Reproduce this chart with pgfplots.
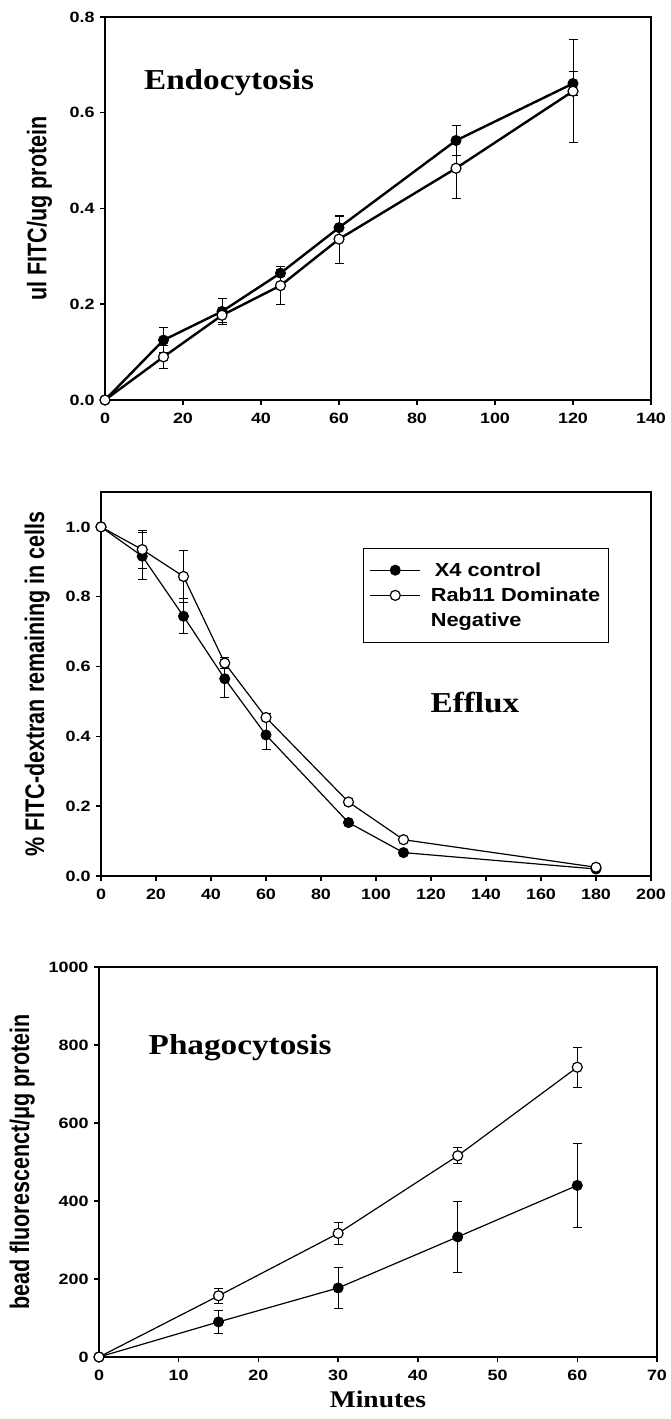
\documentclass[border=0pt]{standalone}
\usepackage{fontspec}
\setmainfont{Liberation Sans}
\newfontfamily\tickfont[FakeStretch=1.2]{Liberation Sans}
\newfontfamily\legfont[FakeStretch=1.15]{Liberation Sans}
\newfontfamily\ylabfont[FakeStretch=0.8]{Liberation Sans}
\newfontfamily\timesfont[FakeStretch=1.15]{Liberation Serif}
\usepackage{pgfplots}
\pgfplotsset{compat=1.18}
\pgfplotstableread{
x y e
0 0 0
15 0.125 0.026
30 0.185 0.027
45 0.265 0.008
60 0.360 0.023
90 0.542 0.032
120 0.661 0.026
}\endoA
\pgfplotstableread{
x y e
0 0 0
15 0.090 0.024
30 0.177 0.015
45 0.239 0.039
60 0.336 0.050
90 0.484 0.063
120 0.645 0.107
}\endoB
\pgfplotstableread{
x y e
0 1.0 0
15 0.916 0.067
30 0.744 0.050
45 0.565 0.054
60 0.404 0.043
90 0.153 0.006
110 0.067 0.005
180 0.020 0.004
}\effA
\pgfplotstableread{
x y e
0 1.0 0
15 0.935 0.055
30 0.858 0.074
45 0.610 0.015
60 0.454 0.012
90 0.212 0.010
110 0.104 0.006
180 0.025 0.004
}\effB
\pgfplotstableread{
x y e
0 0 0
15 90 30
30 177 52
45 308 91
60 440 107
}\phaA
\pgfplotstableread{
x y e
0 0 0
15 157 19
30 317 28
45 516 20
60 743 51
}\phaB
\pgfplotsset{
  panel/.style={
    scale only axis, clip=false,
    axis line style={line width=1.8bp},
    tick pos=left, tick align=outside,
    major tick length=5bp,
    every tick/.style={line width=1.5bp, black},
    tick label style={font=\tickfont\bfseries\fontsize{15}{15}\selectfont},
    xticklabel style={yshift=-5bp},
    yticklabel style={xshift=-2bp},
    /pgf/number format/assume math mode=true,
    /pgf/number format/1000 sep={},
    ylabel style={font=\ylabfont\bfseries\fontsize{27}{27}\selectfont},
  },
  ebar/.style={error bars/.cd, y dir=both, y explicit,
    error bar style={line width=1bp},
    error mark options={rotate=90, mark size=4.5bp, line width=1bp}},
  filled/.style={black, mark=*, mark size=5bp, mark options={fill=black, line width=1bp}},
  open/.style={black, mark=*, mark size=5bp, mark options={fill=white, draw=black, line width=1.2bp}},
}
\begin{document}
\begin{tikzpicture}
\useasboundingbox (0bp,0bp) rectangle (671bp,1419bp);
% Panel 1
\begin{axis}[panel, at={(105bp,1019bp)}, anchor=south west,
  width=546bp, height=383bp,
  xmin=0, xmax=140, ymin=0, ymax=0.8,
  xtick={0,20,...,140}, ytick={0,0.2,0.4,0.6,0.8},
  yticklabel style={/pgf/number format/.cd, fixed, fixed zerofill, precision=1},
  ylabel={ul FITC/ug protein},
  ylabel style={at={(axis description cs:-0.0907,0.5)}, anchor=south},
]
\addplot[filled, line width=2.4bp, ebar] table[x=x, y=y, y error=e] {\endoA};
\addplot[open, line width=2.4bp, ebar] table[x=x, y=y, y error=e] {\endoB};
\node[font={\timesfont\bfseries\fontsize{29}{29}\selectfont}] at (axis cs:31.8,0.662) {Endocytosis};
\end{axis}
% Panel 2
\begin{axis}[panel, at={(101bp,543bp)}, anchor=south west,
  width=550bp, height=384bp,
  xmin=0, xmax=200, ymin=0, ymax=1.1,
  xtick={0,20,...,200}, ytick={0,0.2,0.4,0.6,0.8,1.0},
  yticklabel style={/pgf/number format/.cd, fixed, fixed zerofill, precision=1},
  ylabel={\% FITC-dextran remaining in cells},
  ylabel style={at={(axis description cs:-0.0866,0.5)}, anchor=south},
  legend style={at={(axis cs:95.3,0.9396)}, anchor=north west, draw=black, line width=1.2bp,
    font=\legfont\bfseries\fontsize{19}{19}\selectfont, row sep=6bp, column sep=8bp,
    inner xsep=6bp, inner ysep=12bp},
  legend cell align=left,
  legend image code/.code={\draw[mark repeat=2, mark phase=2, #1] plot coordinates {(0bp,0bp) (25bp,0bp) (50bp,0bp)};},
]
\addplot[filled, line width=1.2bp, ebar] table[x=x, y=y, y error=e] {\effA};
\addlegendentry{\hspace{4bp}X4 control}
\addplot[open, line width=1.2bp, ebar] table[x=x, y=y, y error=e] {\effB};
\addlegendentry{Rab11 Dominate}
\addlegendimage{empty legend}
\addlegendentry{Negative}
\node[font={\timesfont\bfseries\fontsize{29}{29}\selectfont}] at (axis cs:136,0.498) {Efflux};
\end{axis}
% Panel 3
\begin{axis}[panel, at={(99bp,62bp)}, anchor=south west,
  width=558bp, height=390bp,
  xmin=0, xmax=70, ymin=0, ymax=1000,
  xtick={0,10,...,70}, ytick={0,200,...,1000},
  ylabel={bead fluorescenct/μg protein},
  ylabel style={at={(axis description cs:-0.1086,0.5)}, anchor=south},
  xlabel={Minutes},
  xlabel style={font={\timesfont\bfseries\fontsize{24}{24}\selectfont}, yshift=-3bp},
]
\addplot[filled, line width=1.2bp, ebar] table[x=x, y=y, y error=e] {\phaA};
\addplot[open, line width=1.2bp, ebar] table[x=x, y=y, y error=e] {\phaB};
\node[font={\timesfont\bfseries\fontsize{29}{29}\selectfont}] at (axis cs:17.7,792) {Phagocytosis};
\end{axis}
\end{tikzpicture}
\end{document}
